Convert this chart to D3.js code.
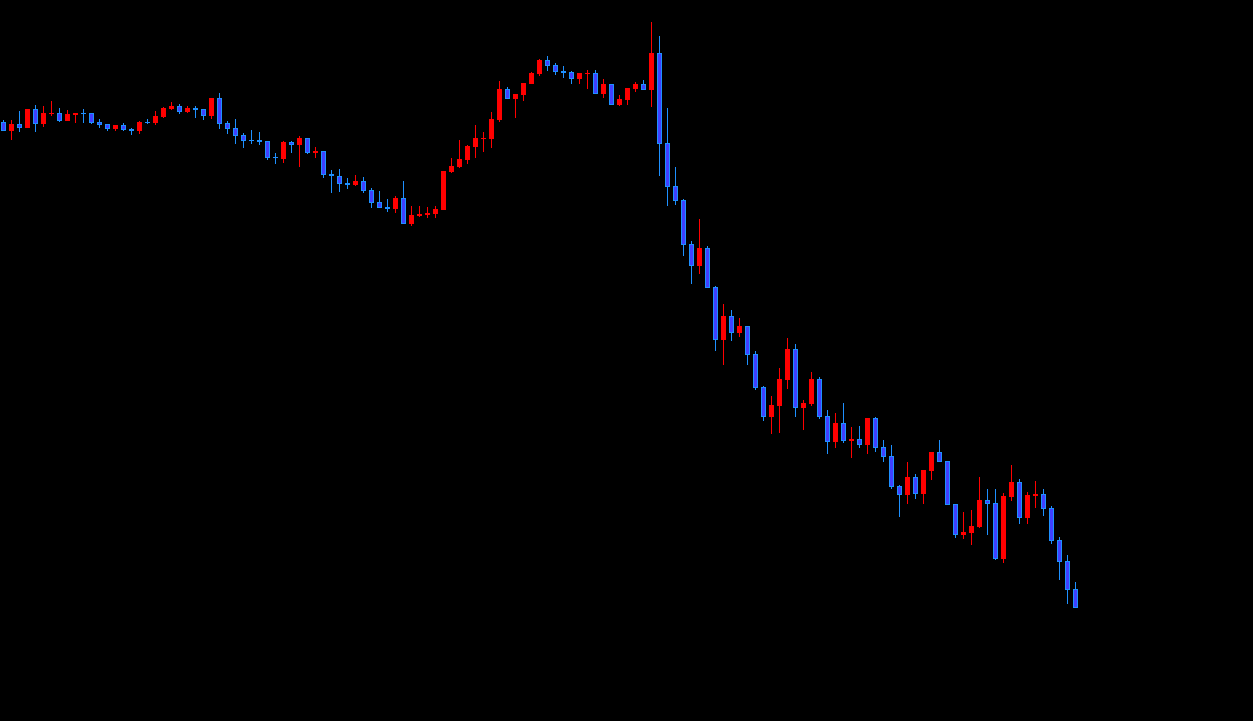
<!DOCTYPE html>
<html>
<head>
<meta charset="utf-8">
<script src="https://cdn.jsdelivr.net/npm/d3@7"></script>
<style>
  html, body { margin: 0; padding: 0; background: #000; overflow: hidden; }
  svg { display: block; }
</style>
</head>
<body>
<svg id="chart" width="1253" height="721"></svg>
<script>
const opens = [599,590,597,593,612,597,607,608,600,606,608,608,599,597,592,596,592,590,599,598,
604,612,615,609,613,612,605,623,598,593,586,581,581,580,564,562,579,576,583,568,
570,547,545,538,536,540,531,519,514,512,523,497,505,506,507,511,549,554,561,574,
582,582,601,632,622,626,637,647,661,656,650,649,642,647,648,627,637,616,621,632,
637,631,668,578,535,521,477,455,473,434,381,405,388,395,367,334,304,315,341,372,
313,317,342,305,279,298,280,282,276,303,274,265,235,226,244,227,250,269,260,217,
186,188,194,221,218,162,224,239,203,225,227,213,181,160,132];
const highs = [601,601,610,612,616,615,620,613,611,608,612,608,602,597,596,598,593,600,602,610,
614,619,617,615,615,612,623,628,600,602,588,591,589,580,568,580,580,585,583,574,
570,551,552,543,546,544,533,530,522,525,540,515,515,514,515,550,563,581,576,596,
589,609,640,634,627,638,649,662,665,658,655,650,648,651,651,642,637,626,633,639,
641,699,685,613,554,522,480,502,475,435,417,411,403,395,370,335,325,353,383,377,
321,349,344,311,308,318,294,295,303,304,281,276,236,259,247,251,269,281,260,217,
209,211,244,232,232,228,256,242,229,240,232,215,184,166,139];
const lows = [590,581,589,593,589,594,605,599,600,598,598,597,593,590,590,590,586,587,597,596,
603,611,607,608,603,601,602,592,587,577,573,577,576,561,557,558,568,554,567,563,
543,528,529,532,535,528,513,513,509,508,497,495,504,503,503,511,548,553,557,563,
569,573,599,622,603,620,637,645,650,646,643,637,637,632,627,623,616,615,616,629,
631,614,545,515,516,465,437,447,433,370,356,380,384,356,331,300,287,288,332,304,
291,315,302,267,273,278,263,273,267,269,259,232,204,217,222,217,241,259,216,183,
182,176,193,186,161,158,220,197,197,213,205,177,141,117,113];
const closes = [590,597,593,612,597,608,608,600,607,608,607,598,596,592,596,591,590,599,598,605,
613,615,609,613,611,605,623,597,592,585,580,580,579,563,563,579,576,583,568,570,
546,545,537,536,540,530,518,513,512,523,497,506,507,508,512,550,555,562,575,583,
583,602,632,622,627,638,648,661,655,649,648,642,648,648,627,637,616,622,633,637,
631,668,577,534,520,476,455,473,433,381,405,388,395,366,333,304,316,342,372,313,
318,342,304,279,298,280,282,276,303,273,264,234,226,244,227,251,269,259,216,186,
189,195,221,217,162,225,239,203,226,227,212,180,159,131,113];

const W = 1253, H = 721;
const UP = { fill: "#ff0000", stroke: "#ff0000", wick: "#ff0000" };
const DOWN = { fill: "#4040ff", stroke: "#1e90ff", wick: "#1e90ff" };

const data = opens.map((o, i) => ({ i, o, h: highs[i], l: lows[i], c: closes[i] }));

const x = d3.scaleLinear().domain([0, data.length - 1]).range([3.5, 3.5 + 8 * (data.length - 1)]);
const y = d3.scaleLinear().domain([0, 721]).range([H, 0]);

const svg = d3.select("#chart");
svg.append("rect").attr("width", W).attr("height", H).attr("fill", "#000");

const g = svg.append("g");

const candles = g.selectAll("g.c").data(data).join("g").attr("class", "c");

candles.append("line")
  .attr("x1", d => x(d.i)).attr("x2", d => x(d.i))
  .attr("y1", d => y(d.h)).attr("y2", d => y(d.l))
  .attr("stroke", d => (d.c >= d.o ? UP : DOWN).wick)
  .attr("stroke-width", 1);

candles.append("rect")
  .attr("x", d => x(d.i) - 2)
  .attr("y", d => Math.round(y(Math.max(d.o, d.c))) + 0.5)
  .attr("width", 4)
  .attr("height", d => Math.max(0.01, Math.abs(y(d.o) - y(d.c)) - 1))
  .attr("fill", d => (d.c >= d.o ? UP : DOWN).fill)
  .attr("stroke", d => (d.c >= d.o ? UP : DOWN).stroke)
  .attr("stroke-width", 1);
</script>
</body>
</html>
